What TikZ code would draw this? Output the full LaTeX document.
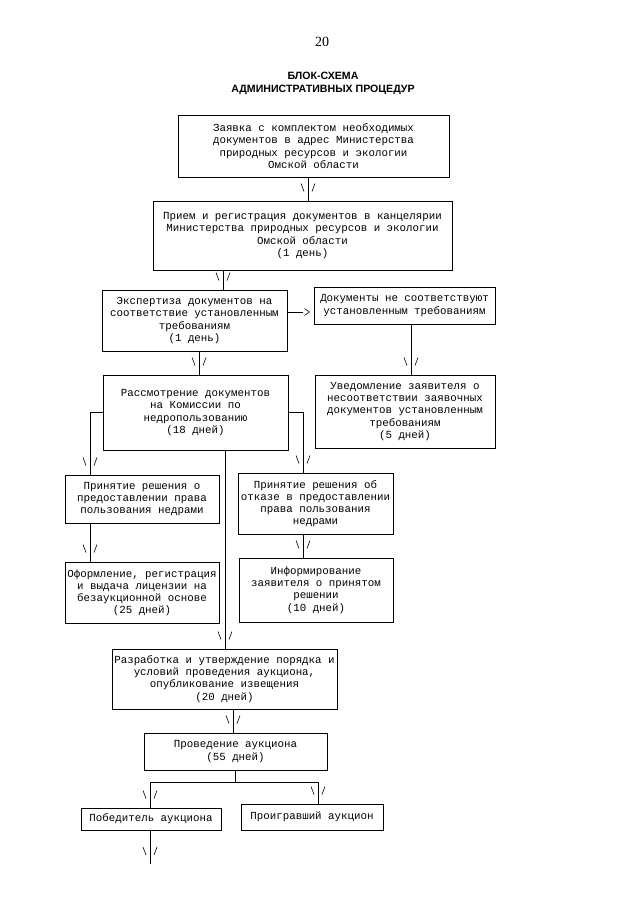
\documentclass[tikz,border=0pt]{standalone}
\usepackage{fontspec}
\setmainfont{Liberation Serif}
\newfontfamily\boxfont{Liberation Mono}
\newfontfamily\headfont{Liberation Sans}
\usetikzlibrary{decorations.markings}

\begin{document}
\begin{tikzpicture}[x=1pt, y=-1pt,
    procbox/.style={draw, line width=1pt, align=center, inner sep=0pt,
        font=\boxfont\fontsize{10.8}{12.2}\selectfont},
    link/.style={line width=0.8pt},
    slashtip/.style={link, postaction={decorate}, decoration={markings,
        mark=at position 1 with {\draw[line width=0.6pt] (-17pt,-7pt) -- (-9pt,-4pt) (-17pt,7pt) -- (-9pt,4pt);}}},
    gaptip/.style={link, postaction={decorate}, decoration={markings,
        mark=at position 1 with {\draw[line width=0.6pt] (2pt,3.5pt) -- (7pt,0pt) -- (2pt,-3.5pt);}}}]
    \useasboundingbox (0,0) rectangle (640,905);

    \node[font=\fontsize{14}{16}\selectfont] (pagenum) at (322,42) {20};
    \node[font=\headfont\bfseries\fontsize{10.6}{13}\selectfont, align=center] (title) at (323,83.5)
        {БЛОК-СХЕМА\\АДМИНИСТРАТИВНЫХ ПРОЦЕДУР};

    % main column
    \node[procbox, minimum width=271pt, minimum height=62pt] (zayavka) at (313.5,146)
        {Заявка с комплектом необходимых\\документов в адрес Министерства\\природных ресурсов и экологии\\Омской области};
    \node[procbox, minimum width=299pt, minimum height=69pt] (priem) at (302.5,235.5)
        {Прием и регистрация документов в канцелярии\\Министерства природных ресурсов и экологии\\Омской области\\(1 день)};
    \node[procbox, minimum width=185pt, minimum height=61pt] (ekspert) at (194.5,320.5)
        {Экспертиза документов на\\соответствие установленным\\требованиям\\(1 день)};
    \node[procbox, minimum width=181pt, minimum height=37pt] (nesootv) at (404.5,305.5)
        {Документы не соответствуют\\установленным требованиям};
    \node[procbox, minimum width=180pt, minimum height=73pt] (uvedom) at (405,411.5)
        {Уведомление заявителя о\\несоответствии заявочных\\документов установленным\\требованиям\\(5 дней)};
    \node[procbox, minimum width=185pt, minimum height=75pt] (rassm) at (195.5,412.5)
        {Рассмотрение документов\\на Комиссии по\\недропользованию\\(18 дней)};

    % decisions
    \node[procbox, minimum width=154pt, minimum height=48pt] (predost) at (142,499)
        {Принятие решения о\\предоставлении права\\пользования недрами};
    \node[procbox, minimum width=155pt, minimum height=61pt] (otkaz) at (315.5,503.5)
        {Принятие решения об\\отказе в предоставлении\\права пользования\\недрами};
    \node[procbox, minimum width=154pt, minimum height=61pt] (oform) at (142,592.5)
        {Оформление, регистрация\\и выдача лицензии на\\безаукционной основе\\(25 дней)};
    \node[procbox, minimum width=154pt, minimum height=64pt] (inform) at (316,590)
        {Информирование\\заявителя о принятом\\решении\\(10 дней)};

    % auction
    \node[procbox, minimum width=225pt, minimum height=60pt] (razrab) at (224.5,679)
        {Разработка и утверждение порядка и\\условий проведения аукциона,\\опубликование извещения\\(20 дней)};
    \node[procbox, minimum width=183pt, minimum height=37pt] (proved) at (235.5,751.5)
        {Проведение аукциона\\(55 дней)};
    \node[procbox, minimum width=140pt, minimum height=22pt] (pobed) at (151,819)
        {Победитель аукциона};
    \node[procbox, minimum width=142pt, minimum height=26pt] (proigr) at (312,817)
        {Проигравший аукцион};
    \coordinate (split) at (235.5,782);
    \coordinate (tail) at (150,864);

    % connectors
    \draw[slashtip] ([xshift=-5.5pt]zayavka.south) -- ([xshift=-5.5pt]zayavka.south |- priem.north);
    \draw[slashtip] ([xshift=28.5pt]ekspert.north |- priem.south) -- ([xshift=28.5pt]ekspert.north);
    \draw[gaptip] ([yshift=8.5pt]ekspert.east) -- ([xshift=-11pt,yshift=-6.5pt]nesootv.west);
    \draw[slashtip] ([xshift=6.5pt]nesootv.south) -- ([xshift=6.5pt]nesootv.south |- uvedom.north);
    \draw[slashtip] ([xshift=4.5pt]ekspert.south) -- ([xshift=4.5pt]ekspert.south |- rassm.north);
    \draw[slashtip] (rassm.west) -| ([xshift=-52pt]predost.north);
    \draw[slashtip] (rassm.east) -| ([xshift=-12.5pt]otkaz.north);
    \draw[slashtip] ([xshift=-52pt]predost.south) -- ([xshift=-52pt]oform.north);
    \draw[slashtip] ([xshift=-12.5pt]otkaz.south) -- ([xshift=-12.5pt]otkaz.south |- inform.north);
    \draw[slashtip] ([xshift=29.5pt]rassm.south) -- ([xshift=29.5pt]rassm.south |- razrab.north);
    \draw[slashtip] ([xshift=8.5pt]razrab.south) -- ([xshift=8.5pt]razrab.south |- proved.north);
    \draw[link] (proved.south) -- (split);
    \draw[slashtip] (split) -| ([xshift=-1pt]pobed.north);
    \draw[slashtip] (split) -| ([xshift=6pt]proigr.north);
    \draw[slashtip] ([xshift=-1pt]pobed.south) -- (tail);
\end{tikzpicture}
\end{document}
